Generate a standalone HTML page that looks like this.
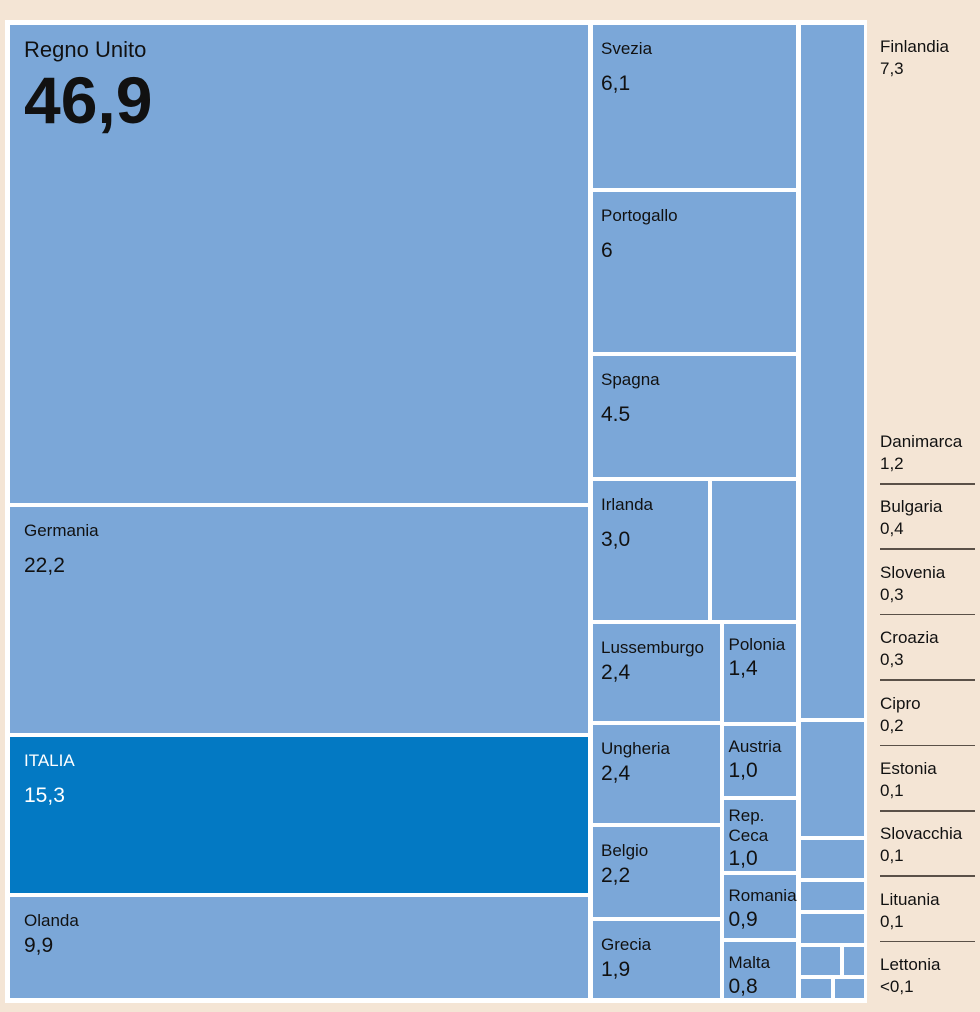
<!DOCTYPE html>
<html><head><meta charset="utf-8">
<style>
html,body{margin:0;padding:0}
body{width:980px;height:1012px;background:#f4e5d5;position:relative;overflow:hidden;font-family:"Liberation Sans",sans-serif;color:#111}
#panel{position:absolute;left:5px;top:20px;width:862px;height:983px;background:#fff}
.cell{position:absolute;background:#7ba7d8}
.lbl{position:absolute;white-space:nowrap;line-height:1}
.leg{position:absolute;left:880px;font-size:17px;line-height:22px;white-space:nowrap}
.rule{position:absolute;left:880px;width:95px;height:1.5px;background:#5a5048}
</style></head>
<body>
<div id="panel"></div>
<div id="legend"></div>
<script>
// data
const countries = ["Regno Unito","Germania","ITALIA","Olanda","Svezia","Portogallo","Spagna","Irlanda","Altro","Lussemburgo","Ungheria","Belgio","Grecia","Polonia","Austria","Rep. Ceca","Romania","Malta","Finlandia","Danimarca","Bulgaria","Slovenia","Croazia","Cipro","Estonia","Slovacchia","Lituania"];
const values = [46.9,22.2,15.3,9.9,6.1,6,4.5,3.0,2.2,2.4,2.4,2.2,1.9,1.4,1.0,1.0,0.9,0.8,7.3,1.2,0.4,0.3,0.3,0.2,0.1,0.1,0.1];
const valueLabels = ["46,9","22,2","15,3","9,9","6,1","6","4.5","3,0","","2,4","2,4","2,2","1,9","1,4","1,0","1,0","0,9","0,8","7,3","1,2","0,4","0,3","0,3","0,2","0,1","0,1","0,1"];
const legendNames = ["Danimarca","Bulgaria","Slovenia","Croazia","Cipro","Estonia","Slovacchia","Lituania","Lettonia"];
const legendValues = ["1,2","0,4","0,3","0,3","0,2","0,1","0,1","0,1","<0,1"];

const G=4;
const col1={t:'v',c:[0,1,2,3]};
const col2={t:'v',c:[4,5,6,{t:'h',c:[7,8]},{t:'h',c:[{t:'v',c:[9,10,11,12]},{t:'v',c:[13,14,15,16,17]}]}]};
const col3={t:'v',c:[18,19,20,21,22,{t:'h',c:[23,24]},{t:'h',c:[25,26]}]};
function w(n){return typeof n==='number'?values[n]:n.c.reduce((s,k)=>s+w(k),0);}
const rects=[];
function layout(n,x,y,W,H,col){
  if(typeof n==='number'){rects.push({i:n,x,y,W,H,col});return;}
  const tot=w(n), avail=(n.t==='v'?H:W)-G*(n.c.length-1);
  let p=n.t==='v'?y:x;
  n.c.forEach(k=>{const s=avail*w(k)/tot;
    if(n.t==='v')layout(k,x,p,W,s,col);else layout(k,p,y,s,H,col);
    p+=s+G;});
}
layout(col1,5,5,578,973,1);
layout(col2,588,5,203,973,2);
layout(col3,796,5,63,973,3);
const panel=document.getElementById('panel');
rects.forEach(r=>{
  const d=document.createElement('div');
  d.className='cell';
  
  
  d.style.left=r.x+'px';d.style.top=r.y+'px';d.style.width=r.W+'px';d.style.height=r.H+'px';
  if(r.i===2)d.style.background='#0379c3';
  panel.appendChild(d);
  if(r.col===3||valueLabels[r.i]==='')return;
  const txtColor=r.i===2?'#fff':'#111';
  const small=r.W<100;
  const ox=r.col===1?14:(small?5:8);
  const nm=document.createElement('div');
  nm.className='lbl';
  
  
  nm.style.color=txtColor;
  nm.style.left=ox+'px';
  nm.style.top=(r.i===0?14:(small?12:15))+'px';
  nm.style.fontSize=(r.i===0?22:(small?17:17))+'px';
  let name=countries[r.i];
  if(name==='Rep. Ceca'){nm.innerHTML='Rep.<br>Ceca';nm.style.lineHeight='20px';nm.style.top='6px';}
  else nm.textContent=name;
  d.appendChild(nm);
  const v=document.createElement('div');
  v.className='lbl';
  
  
  v.style.color=txtColor;
  v.style.left=ox+'px';
  if(r.i===0){v.style.top='42px';v.style.fontSize='66px';v.style.fontWeight='bold';}
  else{v.style.top=(small?(name==='Rep. Ceca'?48:34):(r.H>110?48:38))+'px';v.style.fontSize='21px';}
  v.textContent=valueLabels[r.i];
  d.appendChild(v);
});
// legend
const leg=document.getElementById('legend');
function addLeg(name,val,top){
  const e=document.createElement('div');
  e.className='leg';
  
  
  e.style.top=top+'px';
  e.innerHTML=name+'<br>'+val;
  leg.appendChild(e);
}
addLeg(countries[18],valueLabels[18],36);
legendNames.forEach((n,k)=>{
  addLeg(n,legendValues[k],431+k*65.4);
  if(k<legendNames.length-1){
    const l=document.createElement('div');
    l.className='rule';
    
    
    l.style.top=(483+k*65.4)+'px';
    leg.appendChild(l);
  }
});
</script>
</body></html>
